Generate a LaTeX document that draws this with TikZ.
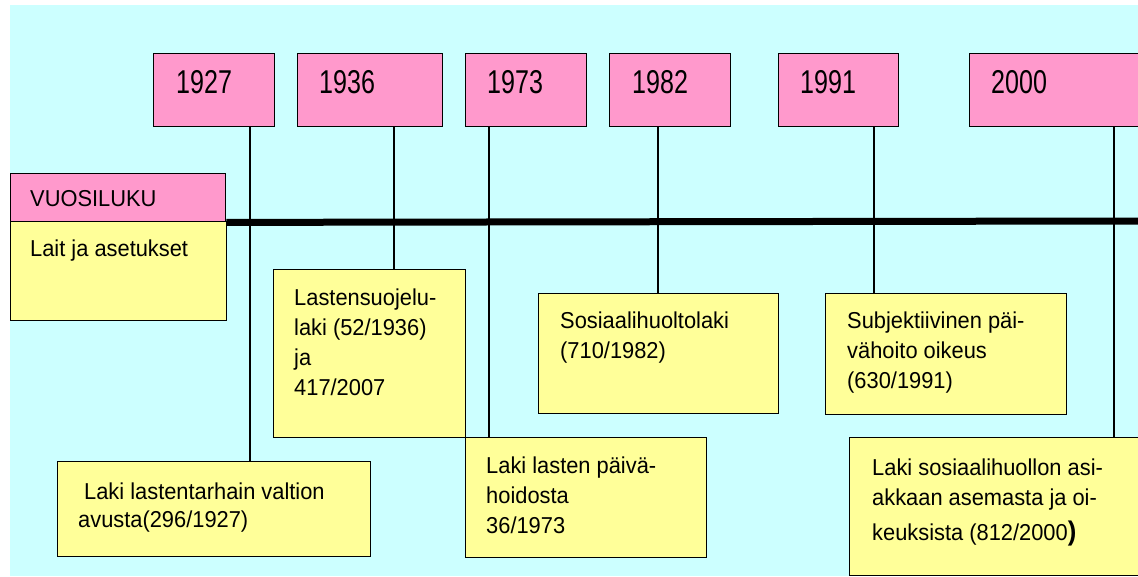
\documentclass[tikz,border=0pt]{standalone}
\usepackage{fontspec}
\setmainfont[FakeStretch=0.95]{Liberation Sans}
\newfontfamily\yearfont[FakeStretch=0.76]{Liberation Sans}
\definecolor{bgcyan}{HTML}{CCFFFF}
\definecolor{boxpink}{HTML}{FF99CC}
\definecolor{boxyellow}{HTML}{FFFF99}
\tikzset{
  pinkbox/.style={draw=black, line width=1.4pt, fill=boxpink, inner sep=0pt, anchor=north west},
  yellowbox/.style={draw=black, line width=1.4pt, fill=boxyellow, inner sep=0pt, anchor=north west},
  yeartext/.style={anchor=base west, inner sep=0pt, font=\yearfont\fontsize{33}{38}\selectfont},
  lawtext/.style={anchor=base west, inner sep=0pt},
  conn/.style={draw=black, line width=1.4pt},
  axis/.style={draw=black, line width=7pt}
}
\newcommand{\lawlines}[2]{\parbox[t]{#1}{\fontsize{23}{30}\selectfont #2}}
\begin{document}
\begin{tikzpicture}[x=1pt,y=-1pt]
\useasboundingbox (0,0) rectangle (1138,577);
\clip (0,0) rectangle (1138,577);
\fill[white] (0,0) rectangle (1138,577);
\fill[bgcyan] (10,5) rectangle (1138,576);

% year boxes
\node[pinkbox, minimum width=121pt, minimum height=73pt] (y1927) at (153,53) {};
\node[pinkbox, minimum width=145pt, minimum height=73pt] (y1936) at (297,53) {};
\node[pinkbox, minimum width=121pt, minimum height=73pt] (y1973) at (465,53) {};
\node[pinkbox, minimum width=121pt, minimum height=73pt] (y1982) at (609,53) {};
\node[pinkbox, minimum width=120pt, minimum height=73pt] (y1991) at (778,53) {};
\node[pinkbox, minimum width=170pt, minimum height=73pt] (y2000) at (969,53) {};
\node[yeartext] (t1927) at (176,94) {1927};
\node[yeartext] (t1936) at (319,94) {1936};
\node[yeartext] (t1973) at (487,94) {1973};
\node[yeartext] (t1982) at (632,94) {1982};
\node[yeartext] (t1991) at (800,94) {1991};
\node[yeartext] (t2000) at (991,94) {2000};

% legend boxes
\node[pinkbox, minimum width=215pt, minimum height=48pt] (vuosi) at (10,173) {};
\node[lawtext] (tvuosi) at (30,207) {\fontsize{23}{30}\selectfont VUOSILUKU};
\node[yellowbox, minimum width=216pt, minimum height=99pt] (lait) at (10,221) {};
\node[lawtext] (tlait) at (30,257) {\fontsize{23}{30}\selectfont Lait ja asetukset};

% law boxes
\node[yellowbox, minimum width=192pt, minimum height=168pt] (l1936) at (273,269) {};
\node[yellowbox, minimum width=240pt, minimum height=120pt] (l1982) at (538,293) {};
\node[yellowbox, minimum width=241pt, minimum height=121pt] (l1991) at (825,293) {};
\node[yellowbox, minimum width=313pt, minimum height=95pt] (l1927) at (57,461) {};
\node[yellowbox, minimum width=241pt, minimum height=120pt] (l1973) at (465,437) {};
\node[yellowbox, minimum width=300pt, minimum height=138pt] (l2000) at (849,437) {};

\node[lawtext] (x1936) at (294,306) {\lawlines{170pt}{Lastensuojelu-\\laki (52/1936)\\ja\\417/2007}};
\node[lawtext] (x1982) at (560,329) {\lawlines{210pt}{Sosiaalihuoltolaki\\(710/1982)}};
\node[lawtext] (x1991) at (847,329) {\lawlines{210pt}{Subjektiivinen päi-\\vähoito oikeus\\(630/1991)}};
\node[lawtext] (x1927) at (78,499) {\parbox[t]{290pt}{\fontsize{23}{28}\selectfont \hspace*{6pt}Laki lastentarhain valtion\\avusta(296/1927)}};
\node[lawtext] (x1973) at (486,473) {\lawlines{215pt}{Laki lasten päivä-\\hoidosta\\36/1973}};
\node[lawtext] (x2000) at (872,475) {\lawlines{265pt}{Laki sosiaalihuollon asi-\\akkaan asemasta ja oi-\\[5pt]keuksista (812/2000{\bfseries\fontsize{27}{30}\selectfont )}}};

% axis
\draw[axis] (vuosi.south east) -- (1140,221);

% connectors
\draw[conn] (y1927.south -| 250,0) -- (l1927.north -| 250,0);
\draw[conn] (y1936.south -| 394,0) -- (l1936.north -| 394,0);
\draw[conn] (y1973.south -| 489,0) -- (l1973.north -| 489,0);
\draw[conn] (y1982.south -| 658,0) -- (l1982.north -| 658,0);
\draw[conn] (y1991.south -| 874,0) -- (l1991.north -| 874,0);
\draw[conn] (y2000.south -| 1114,0) -- (l2000.north -| 1114,0);
\end{tikzpicture}
\end{document}
